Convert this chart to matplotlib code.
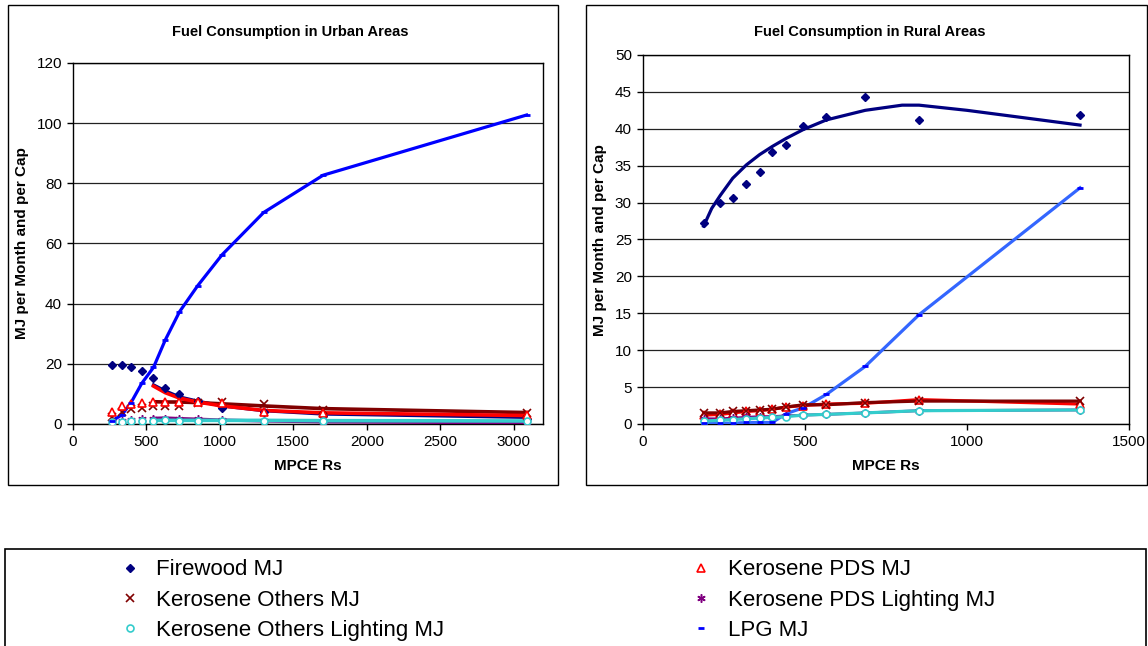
import matplotlib
matplotlib.use('Agg')
import matplotlib.pyplot as plt
from matplotlib.patches import Rectangle

plt.rcParams['font.family'] = ['Liberation Sans', 'DejaVu Sans']

# Urban survey points (MPCE in Rs, energy in MJ per month per capita)
urban_mpce = [264, 332, 393, 468, 548, 628, 725, 848, 1014, 1298, 1703, 3088]
urban_firewood = [19.6, 19.6, 18.8, 17.7, 15.2, 12.1, 10.1, 7.6, 5.2, 4.0, 2.8, 1.8]
urban_kero_pds = [4.1, 6.0, 6.5, 6.9, 7.2, 7.2, 7.2, 7.2, 6.9, 4.1, 3.5, 3.0]
urban_kero_oth = [2.4, 4.0, 4.9, 5.2, 6.0, 6.0, 6.0, 6.9, 7.2, 6.6, 4.6, 3.5]
urban_pds_light = [0.6, 1.0, 1.3, 1.5, 1.6, 1.8, 1.7, 1.5, 1.3, 1.0, 0.6, 0.4]
urban_oth_light = [0.5, 0.6, 0.9, 1.0, 1.1, 1.2, 1.1, 1.1, 1.1, 1.1, 1.0, 0.9]
urban_lpg = [1.0, 3.0, 6.9, 13.5, 18.8, 27.9, 37.3, 45.9, 56.2, 70.3, 82.7, 102.7]

# Urban trend lines
urban_trend_x = [548, 628, 725, 848, 1014, 1298, 1703, 3088]
urban_fw_trend = [13.0, 11.0, 9.0, 7.6, 6.0, 4.4, 3.3, 2.2]
urban_pds_trend = [12.6, 10.4, 8.6, 7.3, 6.0, 4.5, 3.7, 2.8]
urban_oth_trend = [7.4, 7.3, 7.3, 7.1, 6.7, 6.0, 5.1, 3.8]
urban_pdsl_trend = [1.9, 2.0, 1.8, 1.6, 1.3, 1.0, 0.7, 0.4]
urban_othl_trend = [1.2, 1.2, 1.2, 1.2, 1.2, 1.2, 1.1, 1.0]

# Rural survey points
rural_mpce = [187, 239, 277, 319, 360, 399, 442, 495, 566, 686, 852, 1349]
rural_firewood = [27.2, 30.0, 30.6, 32.5, 34.1, 36.9, 37.8, 40.4, 41.6, 44.3, 41.2, 41.9]
rural_kero_pds = [1.2, 1.3, 1.5, 1.7, 1.8, 2.0, 2.3, 2.5, 2.7, 2.8, 3.3, 2.7]
rural_kero_oth = [1.5, 1.5, 1.7, 1.8, 1.9, 2.0, 2.3, 2.6, 2.6, 2.9, 3.1, 3.1]
rural_pds_light = [0.7, 0.7, 0.8, 0.9, 1.0, 1.0, 1.1, 1.2, 1.3, 1.5, 1.8, 1.9]
rural_oth_light = [0.4, 0.5, 0.6, 0.7, 0.8, 0.9, 1.0, 1.2, 1.3, 1.5, 1.8, 1.9]
rural_lpg = [0.1, 0.1, 0.1, 0.2, 0.2, 0.2, 1.4, 2.2, 4.0, 7.8, 14.8, 32.0]

# Rural firewood trend
rural_fw_trend_x = [187, 212, 239, 277, 319, 360, 399, 442, 495, 566, 686, 800, 852, 1000, 1349]
rural_fw_trend = [26.8, 29.2, 31.0, 33.3, 35.1, 36.5, 37.6, 38.7, 39.9, 41.2, 42.5, 43.2, 43.2, 42.5, 40.5]

NAVY = '#000080'
RED = '#FF0000'
DARKRED = '#800000'
PURPLE = '#800080'
CYAN = '#33CCCC'
BLUE = '#0000FF'
LIGHTBLUE = '#3366FF'

fig = plt.figure(figsize=(11.48, 6.46), dpi=100)
ax_u = fig.add_axes([0.0636, 0.3437, 0.4094, 0.5588])
ax_r = fig.add_axes([0.5601, 0.3437, 0.4233, 0.5712])

mk = dict(linestyle='none', zorder=4)


def style_axes(ax, xmax, xticks, ymax, yticks):
    ax.set_xlim(0, xmax)
    ax.set_ylim(0, ymax)
    ax.set_xticks(xticks)
    ax.set_yticks(yticks)
    ax.grid(axis='y', color='#222222', linewidth=0.9)
    ax.set_axisbelow(True)
    for s in ax.spines.values():
        s.set_color('black')
        s.set_linewidth(1.0)
    ax.tick_params(direction='out', length=4, width=1, labelsize=11, pad=4)


# ---- urban ----
ax = ax_u
ax.plot(urban_mpce, urban_lpg, color=BLUE, lw=2.3, zorder=3)
ax.plot(urban_trend_x, urban_fw_trend, color=NAVY, lw=2.3, zorder=3)
ax.plot(urban_trend_x, urban_oth_trend, color=DARKRED, lw=2.6, zorder=3)
ax.plot(urban_trend_x, urban_pds_trend, color=RED, lw=2.6, zorder=3)
ax.plot(urban_trend_x, urban_pdsl_trend, color=PURPLE, lw=2.3, zorder=3)
ax.plot(urban_trend_x, urban_othl_trend, color=CYAN, lw=2.6, zorder=3)
ax.plot(urban_mpce, urban_firewood, marker='D', ms=4.5, color=NAVY, **mk)
ax.plot(urban_mpce, urban_kero_oth, marker='x', ms=6, mew=1.2, color=DARKRED, **mk)
ax.plot(urban_mpce, urban_kero_pds, marker='^', ms=6, mew=1.2, color=RED, mfc='white', **mk)
ax.plot(urban_mpce, urban_pds_light, marker=(6, 2, 0), ms=6, mew=1.1, color=PURPLE, **mk)
ax.plot(urban_mpce, urban_oth_light, marker='o', ms=5, mew=1.2, color=CYAN, mfc='white', **mk)
ax.plot(urban_mpce, urban_lpg, marker='_', ms=5, mew=2, color=BLUE, **mk)
style_axes(ax, 3200, range(0, 3001, 500), 120, range(0, 121, 20))

# ---- rural ----
ax = ax_r
ax.plot(rural_mpce, rural_lpg, color=LIGHTBLUE, lw=2.3, zorder=3)
ax.plot(rural_fw_trend_x, rural_fw_trend, color=NAVY, lw=2.3, zorder=3)
ax.plot(rural_mpce, rural_kero_pds, color=RED, lw=2.3, zorder=3)
ax.plot(rural_mpce, rural_kero_oth, color=DARKRED, lw=2.3, zorder=3)
ax.plot(rural_mpce, rural_pds_light, color=PURPLE, lw=2.0, zorder=3)
ax.plot(rural_mpce, rural_oth_light, color=CYAN, lw=2.3, zorder=3)
h_fw, = ax.plot(rural_mpce, rural_firewood, marker='D', ms=4.5, color=NAVY, **mk)
h_pds, = ax.plot(rural_mpce, rural_kero_pds, marker='^', ms=6, mew=1.2, color=RED, mfc='white', **mk)
h_oth, = ax.plot(rural_mpce, rural_kero_oth, marker='x', ms=6, mew=1.2, color=DARKRED, **mk)
h_pdsl, = ax.plot(rural_mpce, rural_pds_light, marker=(6, 2, 0), ms=6, mew=1.1, color=PURPLE, **mk)
h_othl, = ax.plot(rural_mpce, rural_oth_light, marker='o', ms=5, mew=1.2, color=CYAN, mfc='white', **mk)
h_lpg, = ax.plot(rural_mpce, rural_lpg, marker='_', ms=5, mew=2, color=BLUE, **mk)
style_axes(ax, 1500, range(0, 1501, 500), 50, range(0, 51, 5))

# panel frames, titles and axis labels
for x0, w in [(0.00697, 0.479), (0.5105, 0.4887)]:
    fig.patches.append(Rectangle((x0, 0.2492), w, 0.743, transform=fig.transFigure,
                                 fill=False, edgecolor='black', linewidth=1.0))
fig.text(0.2526, 0.950, 'Fuel Consumption in Urban Areas', ha='center', va='center',
         fontsize=10.5, fontweight='bold')
fig.text(0.758, 0.950, 'Fuel Consumption in Rural Areas', ha='center', va='center',
         fontsize=10.5, fontweight='bold')
fig.text(0.268, 0.279, 'MPCE Rs', ha='center', va='center', fontsize=11, fontweight='bold')
fig.text(0.772, 0.279, 'MPCE Rs', ha='center', va='center', fontsize=11, fontweight='bold')
fig.text(0.019, 0.624, 'MJ per Month and per Cap', ha='center', va='center', rotation=90,
         fontsize=11, fontweight='bold')
fig.text(0.523, 0.628, 'MJ per Month and per Cap', ha='center', va='center', rotation=90,
         fontsize=11, fontweight='bold')

# legend box along the bottom
fig.patches.append(Rectangle((5 / 1148, -0.02), 1141 / 1148, 0.17, transform=fig.transFigure,
                             fill=False, edgecolor='black', linewidth=1.2))
handles = [h_fw, h_oth, h_othl, h_pds, h_pdsl, h_lpg]
labels = ['Firewood MJ', 'Kerosene Others MJ', 'Kerosene Others Lighting MJ',
          'Kerosene PDS MJ', 'Kerosene PDS Lighting MJ', 'LPG MJ']
fig.legend(handles, labels, ncol=2, loc='upper left', bbox_to_anchor=(113 / 1148, 0.134),
           frameon=False, fontsize=16, handlelength=1.5, handletextpad=0.45,
           columnspacing=10.8, labelspacing=0.42, borderpad=0, borderaxespad=0)

plt.savefig('out.png', dpi=100)
